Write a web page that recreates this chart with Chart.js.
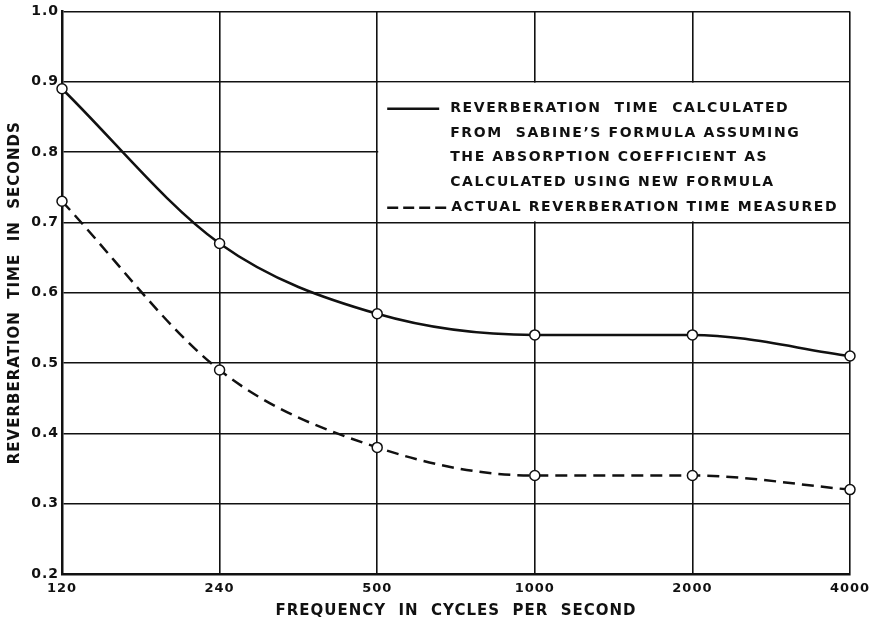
<!DOCTYPE html>
<html>
<head>
<meta charset="utf-8">
<script src="https://cdn.jsdelivr.net/npm/chart.js@4.4.0/dist/chart.umd.min.js"></script>
<style>
  html, body { margin: 0; padding: 0; background: #fff; }
  .wrap { width: 878px; height: 621px; position: relative; }
</style>
</head>
<body>
<div class="wrap"><canvas id="reverbChart"></canvas></div>
<script>
const frequencies = ['120', '240', '500', '1000', '2000', '4000'];
const calculatedTime = [0.89, 0.67, 0.57, 0.54, 0.54, 0.51];
const measuredTime = [0.73, 0.49, 0.38, 0.34, 0.34, 0.32];
const yTickLabels = ['0.2', '0.3', '0.4', '0.5', '0.6', '0.7', '0.8', '0.9', '1.0'];
const legendSolid = [
    'REVERBERATION  TIME  CALCULATED',
    'FROM  SABINE\u2019S FORMULA ASSUMING',
    'THE ABSORPTION COEFFICIENT AS',
    'CALCULATED USING NEW FORMULA'
];
const legendDashed = 'ACTUAL REVERBERATION TIME MEASURED';

const ink = '#111';

// wide drafting-style lettering for every text on the canvas
const lettering = {
    id: 'lettering',
    beforeDraw(chart) {
        chart.ctx.letterSpacing = '1px';
    }
};

// white legend panel drawn over the grid, before the curves
const legendBox = {
    id: 'legendBox',
    beforeDatasetsDraw(chart) {
        const { ctx, scales: { x, y }, chartArea } = chart;
        const left = x.getPixelForValue(2) + 1;
        const top = y.getPixelForValue(0.9);
        const bottom = y.getPixelForValue(0.7);
        const right = chartArea.right;
        ctx.save();
        ctx.fillStyle = '#fff';
        ctx.fillRect(left, top + 1, right - left - 1, bottom - top - 2);

        ctx.font = 'bold 14px "DejaVu Sans", sans-serif';
        ctx.letterSpacing = '1.6px';
        ctx.fillStyle = ink;
        ctx.strokeStyle = ink;
        ctx.textBaseline = 'middle';
        const lineY = top + 27;
        ctx.lineWidth = 2.5;
        ctx.beginPath();
        ctx.moveTo(left + 9, lineY);
        ctx.lineTo(left + 61, lineY);
        ctx.stroke();
        legendSolid.forEach((t, i) => {
            ctx.fillText(t, left + 72, lineY + i * 24.5);
        });
        const dashY = top + 126;
        ctx.setLineDash([11, 5]);
        ctx.beginPath();
        ctx.moveTo(left + 9, dashY);
        ctx.lineTo(left + 72, dashY);
        ctx.stroke();
        ctx.setLineDash([]);
        ctx.fillText(legendDashed, left + 73, dashY);
        ctx.restore();
    }
};

new Chart(document.getElementById('reverbChart'), {
    type: 'line',
    data: {
        labels: frequencies,
        datasets: [
            {
                label: 'Calculated (Sabine, new absorption coefficient)',
                data: calculatedTime,
                borderColor: ink,
                borderWidth: 2.5,
                cubicInterpolationMode: 'monotone',
                pointRadius: 5,
                pointBorderWidth: 1.5,
                pointBackgroundColor: '#fff',
                pointBorderColor: ink,
            },
            {
                label: 'Actual reverberation time measured',
                data: measuredTime,
                borderColor: ink,
                borderWidth: 2.5,
                borderDash: [12, 7],
                cubicInterpolationMode: 'monotone',
                pointRadius: 5,
                pointBorderWidth: 1.5,
                pointBackgroundColor: '#fff',
                pointBorderColor: ink,
            }
        ]
    },
    options: {
        responsive: true,
        maintainAspectRatio: false,
        animation: false,
        layout: { padding: { left: 0, right: 28, top: 10, bottom: 0 } },
        plugins: {
            legend: { display: false },
            tooltip: { enabled: false },
        },
        scales: {
            x: {
                offset: false,
                afterFit: (s) => { s.height = 47; },
                grid: { color: ink, lineWidth: 1.6, drawTicks: false },
                border: { color: ink, width: 2.5 },
                ticks: {
                    color: ink,
                    font: { family: 'DejaVu Sans', size: 13, weight: 'bold' },
                    padding: 7,
                    maxRotation: 0,
                },
                title: {
                    display: true,
                    text: 'FREQUENCY  IN  CYCLES  PER  SECOND',
                    color: ink,
                    font: { family: 'DejaVu Sans', size: 15, weight: 'bold' },
                    padding: { top: 0, bottom: 1 },
                }
            },
            y: {
                min: 0.2,
                max: 1.0,
                afterFit: (s) => { s.width = 62; },
                afterBuildTicks: (s) => {
                    s.ticks = yTickLabels.map(Number).map(v => ({ value: v }));
                },
                grid: { color: ink, lineWidth: 1.6, drawTicks: false },
                border: { color: ink, width: 2.5 },
                ticks: {
                    color: ink,
                    font: { family: 'DejaVu Sans', size: 14, weight: 'bold' },
                    padding: 3,
                    callback: (v, i) => yTickLabels[i],
                },
                title: {
                    display: true,
                    text: 'REVERBERATION  TIME  IN  SECONDS',
                    color: ink,
                    font: { family: 'DejaVu Sans', size: 15, weight: 'bold' },
                    padding: { top: 6, bottom: 0 },
                }
            }
        }
    },
    plugins: [lettering, legendBox]
});
</script>
</body>
</html>
